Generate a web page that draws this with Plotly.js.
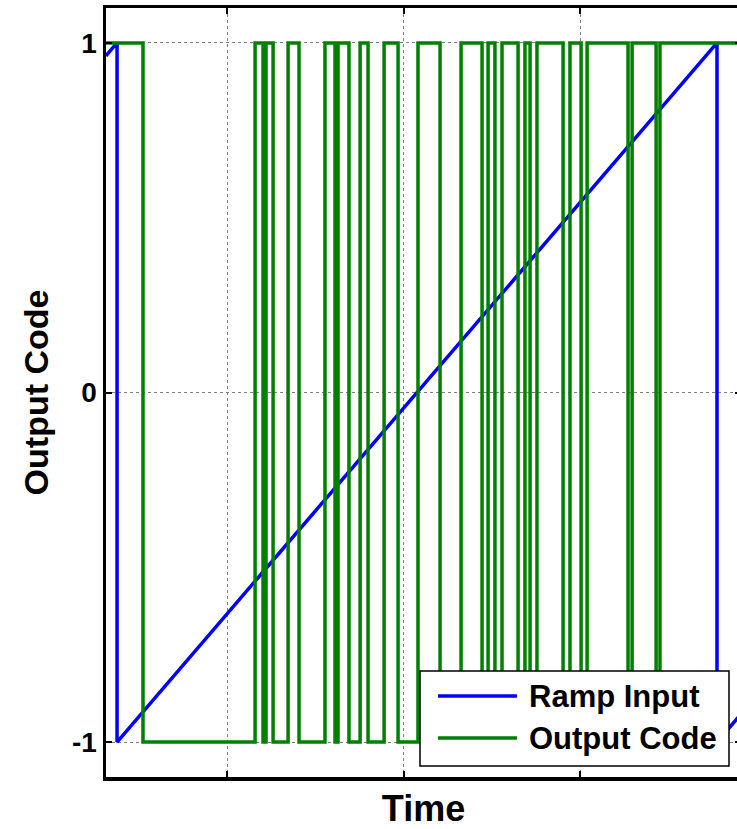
<!DOCTYPE html>
<html>
<head>
<meta charset="utf-8">
<script src="https://cdn.plot.ly/plotly-3.0.1.min.js"></script>
<style>
html, body { margin: 0; padding: 0; overflow: hidden; background: #fff; }
#chart { width: 745px; height: 829px; }
</style>
</head>
<body>
<div id="chart"></div>
<script>
// Ramp input (time, value)
const rampTime  = [0.314, 0.377, 0.377, 3.776, 3.776, 3.912];
const rampValue = [0.963, 1, -1, 1, -1, -0.92];

// Output code transitions (time where level starts, level)
const codeTime = [0.314, 0.524, 1.159, 1.204, 1.221, 1.261, 1.346, 1.408, 1.555, 1.612,
                  1.629, 1.691, 1.754, 1.799, 1.890, 1.969, 2.082, 2.207, 2.326, 2.445,
                  2.479, 2.518, 2.558, 2.649, 2.688, 2.717, 2.756, 2.904, 2.943, 3.006,
                  3.040, 3.272, 3.295, 3.431, 3.453, 3.912];
const codeValue = [1, -1, 1, -1, 1, -1, 1, -1, 1, -1,
                   1, -1, 1, -1, 1, -1, 1, -1, 1, -1,
                   1, -1, 1, -1, 1, -1, 1, -1, 1, -1,
                   1, -1, 1, -1, 1, 1];

const yTickVals = [-1, 0, 1];
const yTickText = ['-1', '0', '1'];
const xTickVals = [1, 2, 3];
const seriesNames = ['Ramp Input', 'Output Code'];
const seriesColors = ['#0000ff', '#008000'];

const font = 'Liberation Sans, Arial, sans-serif';

const traces = [
  { x: rampTime, y: rampValue, mode: 'lines', name: seriesNames[0],
    line: { color: seriesColors[0], width: 3.5 }, showlegend: false },
  { x: codeTime, y: codeValue, mode: 'lines', name: seriesNames[1],
    line: { color: seriesColors[1], width: 3.5, shape: 'hv' }, showlegend: false }
];

// custom legend geometry (paper coords)
const lg = { x0: 0.4945, x1: 0.9811, y0: 0.0143, y1: 0.1378,
             lineX0: 0.5228, lineX1: 0.6472, textX: 0.663, rows: [0.1053, 0.0507] };

const shapes = [
  { type: 'rect', xref: 'paper', yref: 'paper', x0: lg.x0, x1: lg.x1, y0: lg.y0, y1: lg.y1,
    line: { color: '#000', width: 1.5 }, fillcolor: '#fff', layer: 'above' }
];
const annotations = [];
seriesNames.forEach((n, i) => {
  shapes.push({ type: 'line', xref: 'paper', yref: 'paper', x0: lg.lineX0, x1: lg.lineX1,
    y0: lg.rows[i], y1: lg.rows[i], line: { color: seriesColors[i], width: 3.5 }, layer: 'above' });
  annotations.push({ xref: 'paper', yref: 'paper', x: lg.textX, y: lg.rows[i], text: n,
    showarrow: false, xanchor: 'left', yanchor: 'middle',
    font: { family: font, size: 31, weight: 'bold', color: '#000' } });
});

const layout = {
  width: 745, height: 829,
  margin: { l: 106, r: 4, t: 8, b: 52 },
  paper_bgcolor: '#fff', plot_bgcolor: '#fff',
  showlegend: false,
  font: { family: font, color: '#000' },
  xaxis: {
    range: [0.3144, 3.912],
    tickvals: xTickVals, showticklabels: false,
    ticks: 'inside', ticklen: 6, tickwidth: 2, tickcolor: '#000',
    showline: true, linecolor: '#000', linewidth: 3.5, mirror: 'ticks',
    showgrid: true, gridcolor: '#808080', griddash: 'dot', gridwidth: 1,
    zeroline: false,
    title: { text: 'Time', font: { family: font, size: 36, weight: 'bold' }, standoff: 19 }
  },
  yaxis: {
    range: [-1.1, 1.1],
    tickvals: yTickVals, ticktext: yTickText,
    tickfont: { family: font, size: 28, weight: 'bold' },
    ticks: 'inside', ticklen: 6, tickwidth: 2, tickcolor: '#000',
    showline: true, linecolor: '#000', linewidth: 3.5, mirror: 'ticks',
    showgrid: true, gridcolor: '#808080', griddash: 'dot', gridwidth: 1,
    zeroline: false,
    title: { text: 'Output Code', font: { family: font, size: 34, weight: 'bold' }, standoff: 14 }
  },
  shapes: shapes,
  annotations: annotations
};

Plotly.newPlot('chart', traces, layout, { displayModeBar: false, staticPlot: true });
</script>
</body>
</html>
